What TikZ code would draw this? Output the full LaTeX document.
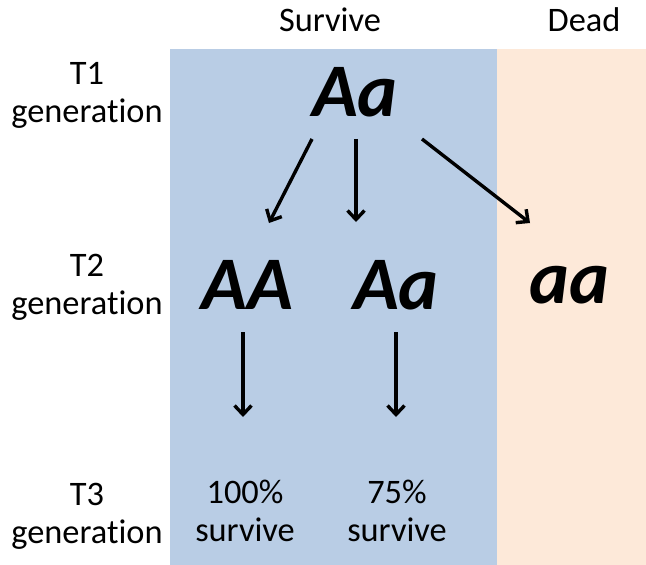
\documentclass[tikz,border=0pt]{standalone}
\usepackage{fontspec}
\setmainfont[RawFeature=-liga]{Carlito}
\usetikzlibrary{arrows.meta}
\definecolor{survivebg}{HTML}{B9CDE5}
\definecolor{deadbg}{HTML}{FDE9D9}
\begin{document}
\begin{tikzpicture}[x=1bp,y=-1bp,
  label/.style={font=\fontsize{34.5}{38}\selectfont, align=center, inner sep=0pt},
  geno/.style={font=\fontsize{76}{76}\selectfont\bfseries\itshape, inner sep=0pt},
  cross/.style={line width=3.4bp, -{Straight Barb[length=9bp,width=17bp,line width=3.4bp]}}]
  \useasboundingbox (0,0) rectangle (646,565);
  % background bands
  \fill[survivebg] (170,49) rectangle (497,565);
  \fill[deadbg] (497,49) rectangle (646,565);
  % column headings
  \node[label] (hsurv) at (330,20) {Survive};
  \node[label] (hdead) at (584,20) {Dead};
  % row headings
  \node[label] (r1) at (87,95) {T1\\generation};
  \node[label] (r2) at (87,287) {T2\\generation};
  \node[label] (r3) at (87,516) {T3\\generation};
  % genotypes
  \node[geno] (t1) at (355,92) {Aa};
  \node[geno] (hom) at (247,285) {AA};
  \node[geno] (het) at (396,285) {Aa};
  \node[geno] (rec) at (569,285) {aa};
  % outcomes
  \node[label] (o1) at (245,511) {100\%\\survive};
  \node[label] (o2) at (397,511) {75\%\\survive};
  % arrow ends
  \coordinate (a1s) at (312,139); \coordinate (a1e) at (269,223);
  \coordinate (a2s) at (356,139); \coordinate (a2e) at (356,222);
  \coordinate (a3s) at (422,139); \coordinate (a3e) at (530,223);
  \coordinate (a4s) at (243,332); \coordinate (a4e) at (243,417);
  \coordinate (a5s) at (396,332); \coordinate (a5e) at (396,417);
  \draw[cross] (a1s) -- (a1e);
  \draw[cross] (a2s) -- (a2e);
  \draw[cross] (a3s) -- (a3e);
  \draw[cross] (a4s) -- (a4e);
  \draw[cross] (a5s) -- (a5e);
\end{tikzpicture}
\end{document}
